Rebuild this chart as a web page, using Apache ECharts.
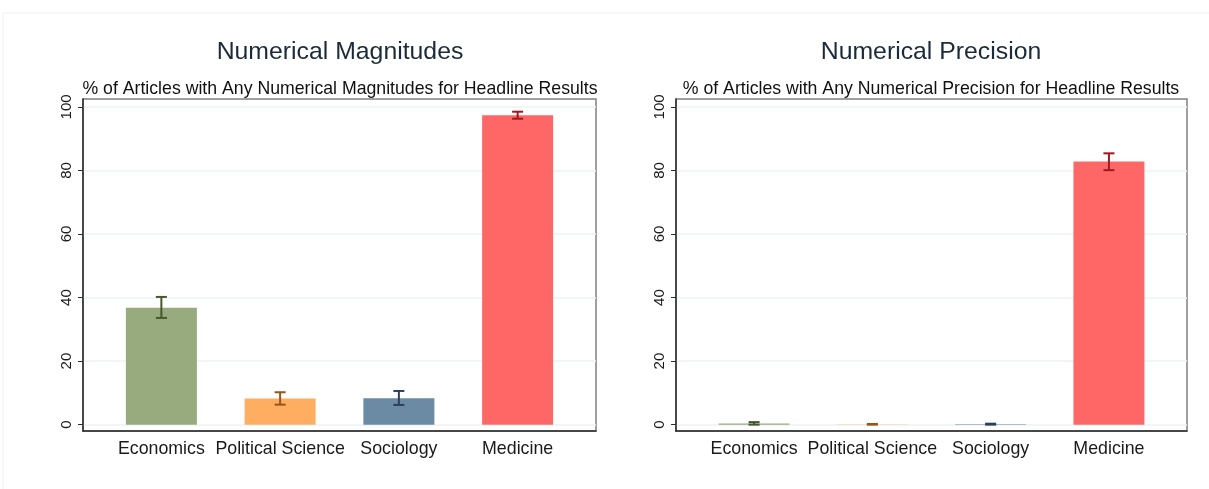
<!DOCTYPE html>
<html>
<head>
<meta charset="utf-8">
<script src="https://cdn.jsdelivr.net/npm/echarts@6/dist/echarts.min.js"></script>
<style>
  html, body { margin: 0; padding: 0; background: #ffffff; }
  #chart { width: 1209px; height: 489px; }
</style>
</head>
<body>
<div id="chart"></div>
<script>
// Categories and tick labels
const categories = ['Economics', 'Political Science', 'Sociology', 'Medicine'];
const yTicks = [0, 20, 40, 60, 80, 100];

// Panel 1: share of articles with any numerical magnitudes (mean and 95% CI)
const magnitudeMean = [36.8, 8.2, 8.3, 97.4];
const magnitudeLow  = [33.6, 6.3, 6.2, 96.3];
const magnitudeHigh = [40.2, 10.2, 10.6, 98.5];

// Panel 2: share of articles with any numerical precision (mean and 95% CI)
const precisionMean = [0.4, 0.05, 0.1, 82.8];
const precisionLow  = [0.0, 0.0, 0.0, 80.1];
const precisionHigh = [0.8, 0.2, 0.3, 85.4];

const barColors = ['#97ab7e', '#ffad60', '#6b8aa3', '#ff6666'];
const ciColors  = ['#46562f', '#9a5418', '#2c4159', '#9e1a1e'];

const FONT = 'Liberation Sans, Arial, sans-serif';

function barSeries(idx, means) {
  return {
    type: 'bar',
    xAxisIndex: idx, yAxisIndex: idx,
    barWidth: 71,
    data: means.map((v, i) => ({
      value: [i + 1, v],
      itemStyle: { color: barColors[i] }
    })),
    silent: true,
    z: 2
  };
}

function ciSeries(idx, lows, highs) {
  return {
    type: 'custom',
    xAxisIndex: idx, yAxisIndex: idx,
    data: lows.map((lo, i) => [i + 1, lo, highs[i]]),
    renderItem: function (params, api) {
      const x = api.value(0);
      const lo = api.coord([x, api.value(1)]);
      const hi = api.coord([x, api.value(2)]);
      const cap = 5.5;
      const style = { stroke: ciColors[params.dataIndex], lineWidth: 2 };
      return {
        type: 'group',
        children: [
          { type: 'line', shape: { x1: lo[0], y1: lo[1], x2: hi[0], y2: hi[1] }, style: style },
          { type: 'line', shape: { x1: hi[0] - cap, y1: hi[1], x2: hi[0] + cap, y2: hi[1] }, style: style },
          { type: 'line', shape: { x1: lo[0] - cap, y1: lo[1], x2: lo[0] + cap, y2: lo[1] }, style: style }
        ]
      };
    },
    silent: true,
    z: 3
  };
}

function xAxis(idx) {
  return {
    type: 'value', gridIndex: idx,
    min: 0.34, max: 4.66,
    axisLine: { show: true, onZero: false, lineStyle: { color: '#2b2b2b', width: 1.5 } },
    axisTick: { show: false },
    splitLine: { show: false },
    axisLabel: {
      customValues: [1, 2, 3, 4],
      formatter: v => categories[Math.round(v) - 1] || '',
      color: '#1a1a1a', fontSize: 17.8, fontFamily: FONT, margin: 9
    }
  };
}

function yAxis(idx) {
  return {
    type: 'value', gridIndex: idx,
    min: -2, max: 102.5,
    axisLine: { show: true, lineStyle: { color: '#2b2b2b', width: 1.5 } },
    axisTick: { show: true, customValues: yTicks, length: 5, lineStyle: { color: '#2b2b2b' } },
    axisLabel: {
      customValues: yTicks, rotate: 90,
      color: '#1a1a1a', fontSize: 15, fontFamily: FONT, margin: 9
    },
    splitLine: { show: true, lineStyle: { color: '#eef2f2', width: 1.5 } }
  };
}

const chart = echarts.init(document.getElementById('chart'), null, { renderer: 'canvas' });

chart.setOption({
  animation: false,
  backgroundColor: '#ffffff',
  title: [
    { text: 'Numerical Magnitudes', left: 335, top: 35, textAlign: 'center',
      textStyle: { fontSize: 24.8, fontWeight: 'normal', color: '#1a2a3a', fontFamily: FONT } },
    { text: '% of Articles with Any Numerical Magnitudes for Headline Results', left: 335, top: 75, textAlign: 'center',
      textStyle: { fontSize: 17.7, fontWeight: 'normal', color: '#111111', fontFamily: FONT } },
    { text: 'Numerical Precision', left: 926, top: 35, textAlign: 'center',
      textStyle: { fontSize: 24.8, fontWeight: 'normal', color: '#1a2a3a', fontFamily: FONT } },
    { text: '% of Articles with Any Numerical Precision for Headline Results', left: 926, top: 75, textAlign: 'center',
      textStyle: { fontSize: 17.7, fontWeight: 'normal', color: '#111111', fontFamily: FONT } }
  ],
  graphic: [
    { type: 'rect', shape: { x: 3, y: 13, width: 1220, height: 500 },
      style: { fill: 'none', stroke: '#f0f0f0', lineWidth: 1 }, silent: true, z: -10 }
  ],
  grid: [
    { left: 83, top: 99, width: 513, height: 332, show: true, borderColor: '#808080', borderWidth: 1.5, backgroundColor: 'transparent' },
    { left: 676, top: 99, width: 511, height: 332, show: true, borderColor: '#808080', borderWidth: 1.5, backgroundColor: 'transparent' }
  ],
  xAxis: [xAxis(0), xAxis(1)],
  yAxis: [yAxis(0), yAxis(1)],
  series: [
    barSeries(0, magnitudeMean),
    ciSeries(0, magnitudeLow, magnitudeHigh),
    barSeries(1, precisionMean),
    ciSeries(1, precisionLow, precisionHigh)
  ]
});
</script>
</body>
</html>
